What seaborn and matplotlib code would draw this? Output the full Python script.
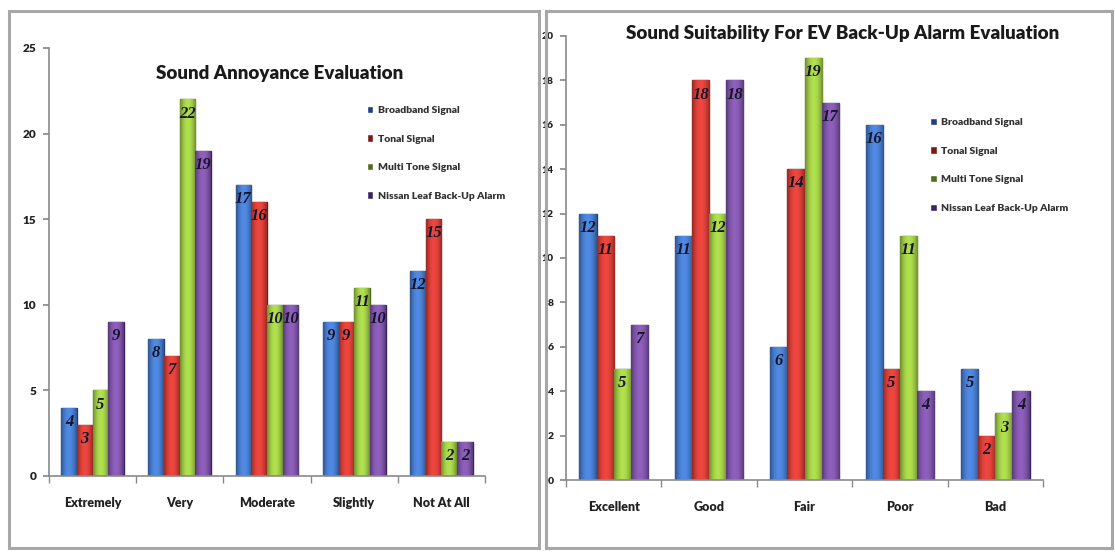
import matplotlib
matplotlib.use("Agg")
import matplotlib.pyplot as plt
from matplotlib.patches import Rectangle
from matplotlib.colors import to_rgb
import numpy as np
import seaborn as sns
import pandas as pd

# Survey results
series = ["Broadband Signal", "Tonal Signal", "Multi Tone Signal", "Nissan Leaf Back-Up Alarm"]

annoy_categories = ["Extremely", "Very", "Moderate", "Slightly", "Not At All"]
annoy_broadband = [4, 8, 17, 9, 12]
annoy_tonal = [3, 7, 16, 9, 15]
annoy_multi = [5, 22, 10, 11, 2]
annoy_nissan = [9, 19, 10, 10, 2]

suit_categories = ["Excellent", "Good", "Fair", "Poor", "Bad"]
suit_broadband = [12, 11, 6, 16, 5]
suit_tonal = [11, 18, 14, 5, 2]
suit_multi = [5, 12, 19, 11, 3]
suit_nissan = [7, 18, 17, 4, 4]

colors = ["#4379cc", "#d63a33", "#9dc942", "#7d52a8"]
edges = ["#1f3f80", "#7a1a16", "#4f6d1c", "#3c2260"]

sns.set_theme(style="white")
plt.rcParams["font.family"] = ["Lato", "DejaVu Sans"]


def long_table(categories, values):
    rows = []
    for name, vals in zip(series, values):
        for cat, v in zip(categories, vals):
            rows.append({"category": cat, "series": name, "count": v})
    return pd.DataFrame(rows)


def shade_bar(ax, bar, base):
    """Overlay a horizontal dark-light-dark gradient clipped to the bar."""
    rgb = np.array(to_rgb(base))
    t = np.linspace(-1, 1, 32)
    k = 1.08 - 0.38 * t ** 2
    row = np.clip(rgb[None, :] * k[:, None] + 0.03 * (1 - t[:, None] ** 2), 0, 1)
    img = row[None, :, :]
    x0, y0 = bar.get_x(), bar.get_y()
    w, h = bar.get_width(), bar.get_height()
    im = ax.imshow(img, extent=(x0, x0 + w, y0, y0 + h), aspect="auto",
                   interpolation="bicubic", zorder=bar.get_zorder() + 0.1)
    im.set_clip_path(bar)


def draw(ax, categories, values, ymax, ystep, title, title_xy, legend_xy, ytick_size):
    df = long_table(categories, values)
    sns.barplot(data=df, x="category", y="count", hue="series", order=categories,
                hue_order=series, palette=colors, width=0.72, saturation=1,
                ax=ax, legend=True)
    for container, col, ec in zip(ax.containers, colors, edges):
        for bar in container:
            bar.set_edgecolor(ec)
            bar.set_linewidth(1.0)
            shade_bar(ax, bar, col)
        labels = [f"{int(round(b.get_height()))}" for b in container]
        for txt in ax.bar_label(container, labels=labels, padding=-16,
                                fontfamily="Liberation Serif", fontstyle="italic",
                                fontweight="bold", fontsize=12, color="#15152a"):
            txt.set_zorder(5)
    ax.set_xlim(-0.5, len(categories) - 0.5)
    ax.set_ylim(0, ymax)
    yt = list(range(0, ymax + 1, ystep))
    ax.set_yticks(yt, [str(v) for v in yt], fontweight="heavy", color="#222222",
                  fontsize=ytick_size)
    ax.set_xticks(range(len(categories)), categories, fontweight="heavy", color="#222222",
                  fontsize=9)
    ax.set_xlabel("")
    ax.set_ylabel("")
    for s in ["top", "right"]:
        ax.spines[s].set_visible(False)
    for s in ["left", "bottom"]:
        ax.spines[s].set_color("#8a8a8a")
        ax.spines[s].set_linewidth(1.2)
    ax.tick_params(axis="y", left=True, length=4, color="#8a8a8a", pad=5)
    ax.tick_params(axis="x", bottom=False, pad=9)
    ax.set_xticks([i + 0.5 for i in range(-1, len(categories))], minor=True)
    ax.tick_params(axis="x", which="minor", bottom=True, length=5, color="#8a8a8a")
    ax.text(title_xy[0], title_xy[1], title, transform=ax.transAxes, ha="center",
            va="center", fontsize=13.5, fontweight="heavy", color="#1a1a1a")
    leg = ax.legend(loc="upper left", bbox_to_anchor=legend_xy, frameon=False,
                    prop={"size": 7.5, "weight": "heavy"}, handlelength=0.6,
                    handleheight=0.7, handletextpad=0.4, labelspacing=1.85,
                    borderaxespad=0)
    for t in leg.get_texts():
        t.set_color("#333333")
    for h, ec in zip(leg.legend_handles, edges):
        h.set_facecolor(ec)


fig = plt.figure(figsize=(11.15, 5.52), dpi=100)
fig.patch.set_facecolor("white")

# Panel frames
fig.add_artist(Rectangle((9 / 1115, 4 / 552), 530 / 1115, 537 / 552, transform=fig.transFigure,
                         fill=False, edgecolor="#a8a8a8", linewidth=2.2))
fig.add_artist(Rectangle((546 / 1115, 4 / 552), 566 / 1115, 537 / 552, transform=fig.transFigure,
                         fill=False, edgecolor="#a8a8a8", linewidth=2.2))

ax1 = fig.add_axes([49 / 1115, 1 - 476 / 552, 436 / 1115, 428 / 552])
ax2 = fig.add_axes([566 / 1115, 1 - 480 / 552, 477 / 1115, 444 / 552])

draw(ax1, annoy_categories, [annoy_broadband, annoy_tonal, annoy_multi, annoy_nissan],
     25, 5, "Sound Annoyance Evaluation", (0.53, 0.94), (0.72, 0.875), 8.5)
draw(ax2, suit_categories, [suit_broadband, suit_tonal, suit_multi, suit_nissan],
     20, 2, "Sound Suitability For EV Back-Up Alarm Evaluation", (0.58, 1.005),
     (0.755, 0.825), 7.5)

fig.savefig("out.png", dpi=100, facecolor="white")
